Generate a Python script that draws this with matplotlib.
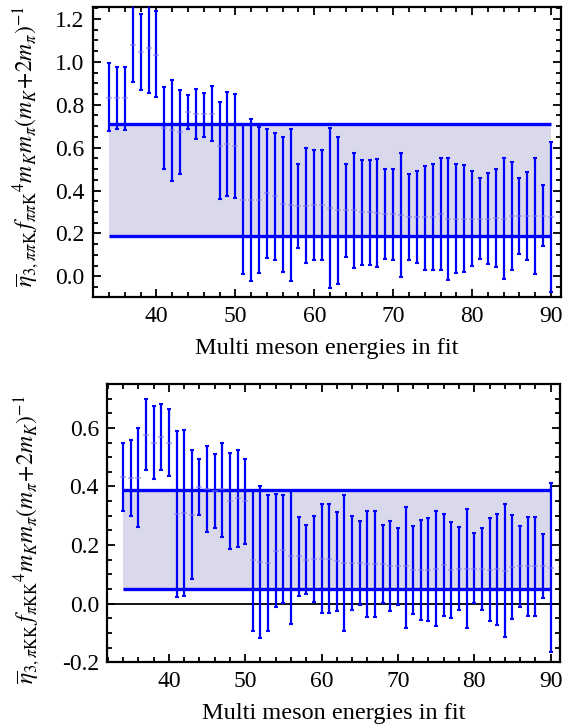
import matplotlib
matplotlib.use("Agg")
import matplotlib.pyplot as plt
from matplotlib.ticker import MultipleLocator, FormatStrFormatter

plt.rcParams['font.family'] = ['Liberation Serif', 'DejaVu Serif']
plt.rcParams['mathtext.fontset'] = 'stix'
plt.rcParams['axes.unicode_minus'] = True

# ---------------- data ----------------
n_energies = list(range(34, 91))

top_center = [0.833, 0.830, 0.830, 1.079, 1.045, 1.067, 1.034, 0.693, 0.682, 0.671,
              0.768, 0.758, 0.756, 0.758, 0.609, 0.617, 0.609, 0.357, 0.357, 0.357,
              0.389, 0.375, 0.335, 0.333, 0.329, 0.329, 0.333, 0.333, 0.319, 0.308,
              0.308, 0.308, 0.299, 0.299, 0.296, 0.291, 0.291, 0.287, 0.276, 0.276,
              0.276, 0.276, 0.291, 0.268, 0.268, 0.268, 0.268, 0.268, 0.268, 0.273,
              0.268, 0.282, 0.282, 0.282, 0.282, 0.282, 0.276]
top_low = [0.679, 0.687, 0.684, 0.908, 0.871, 0.857, 0.838, 0.500, 0.445, 0.478,
           0.688, 0.642, 0.651, 0.632, 0.361, 0.375, 0.366, 0.011, -0.022, 0.016,
           0.086, 0.076, 0.020, -0.022, 0.132, 0.062, 0.076, 0.076, -0.055, -0.036,
           0.090, 0.039, 0.053, 0.053, 0.044, 0.081, 0.076, -0.003, 0.076, 0.062,
           0.030, 0.030, 0.030, -0.017, 0.016, 0.020, 0.048, 0.081, 0.058, 0.044,
           -0.012, 0.030, 0.104, 0.076, 0.011, 0.142, -0.073]
top_high = [0.994, 0.978, 0.978, 1.300, 1.221, 1.290, 1.235, 0.885, 0.917, 0.868,
            0.847, 0.875, 0.857, 0.889, 0.815, 0.861, 0.852, 0.707, 0.735, 0.698,
            0.688, 0.670, 0.651, 0.688, 0.525, 0.600, 0.590, 0.590, 0.693, 0.651,
            0.525, 0.576, 0.544, 0.544, 0.548, 0.502, 0.502, 0.576, 0.478, 0.492,
            0.516, 0.525, 0.553, 0.553, 0.525, 0.520, 0.492, 0.459, 0.483, 0.502,
            0.553, 0.534, 0.459, 0.487, 0.553, 0.427, 0.628]
top_band = [0.190, 0.712]

bot_center = [0.433, 0.430, 0.430, 0.577, 0.550, 0.569, 0.548, 0.305, 0.308, 0.302,
              0.397, 0.390, 0.384, 0.390, 0.351, 0.360, 0.350, 0.149, 0.143, 0.139,
              0.180, 0.183, 0.162, 0.162, 0.150, 0.152, 0.153, 0.153, 0.146, 0.139,
              0.139, 0.139, 0.134, 0.134, 0.134, 0.129, 0.127, 0.127, 0.115, 0.115,
              0.115, 0.118, 0.131, 0.115, 0.118, 0.118, 0.118, 0.118, 0.115, 0.118,
              0.113, 0.125, 0.127, 0.127, 0.127, 0.129, 0.122]
bot_low = [0.316, 0.299, 0.261, 0.455, 0.425, 0.455, 0.435, 0.023, 0.026, 0.084,
           0.302, 0.244, 0.257, 0.227, 0.186, 0.193, 0.205, -0.092, -0.116, -0.092,
           -0.011, 0.003, -0.069, 0.027, 0.033, 0.006, -0.031, -0.031, -0.024, -0.092,
           -0.021, -0.005, -0.045, -0.045, 0.003, -0.024, -0.004, -0.082, -0.035, -0.055,
           -0.058, -0.076, -0.041, -0.048, -0.021, -0.082, 0.003, -0.021, -0.058, -0.072,
           -0.113, -0.051, -0.011, -0.041, -0.041, 0.020, -0.164]
bot_high = [0.549, 0.559, 0.600, 0.699, 0.676, 0.683, 0.663, 0.588, 0.594, 0.523,
            0.493, 0.539, 0.512, 0.550, 0.516, 0.526, 0.493, 0.385, 0.401, 0.370,
            0.373, 0.370, 0.384, 0.295, 0.268, 0.299, 0.339, 0.339, 0.312, 0.370,
            0.299, 0.282, 0.316, 0.316, 0.268, 0.282, 0.258, 0.329, 0.265, 0.285,
            0.292, 0.316, 0.305, 0.278, 0.261, 0.322, 0.241, 0.258, 0.292, 0.305,
            0.339, 0.302, 0.265, 0.295, 0.295, 0.237, 0.411]
bot_band = [0.049, 0.389]

xlabel_text = "Multi meson energies in fit"
top_ylabel = r"$\overline{\eta}_{3,\pi\pi\mathrm{K}}\,f_{\pi\pi\mathrm{K}}{}^{4}m_K m_\pi(m_K\!+\!2m_\pi)^{-1}$"
bot_ylabel = r"$\overline{\eta}_{3,\pi\mathrm{KK}}\,f_{\pi\mathrm{KK}}{}^{4}m_K m_\pi(m_\pi\!+\!2m_K)^{-1}$"

BLUE = "#0000ff"
BAND = "#d9d9eb"


def draw(ax, center, low, high, band, ylim, ylabel, zero_line):
    x = n_energies
    ax.fill_between([x[0], x[-1]], band[0], band[1], color=BAND, lw=0, zorder=1)
    ax.plot([x[0], x[-1]], [band[1], band[1]], color=BLUE, lw=2.4, zorder=3,
            solid_capstyle='butt')
    ax.plot([x[0], x[-1]], [band[0], band[0]], color=BLUE, lw=2.4, zorder=3,
            solid_capstyle='butt')
    if zero_line:
        ax.axhline(0.0, color='black', lw=1.3, zorder=2)
    yerr = [[c - l for c, l in zip(center, low)], [h - c for c, h in zip(center, high)]]
    ax.errorbar(x, center, yerr=yerr, fmt='none', ecolor=BLUE, elinewidth=1.6,
                capsize=1.6, capthick=1.5, zorder=4)
    ax.plot(x, center, ls='none', marker='_', ms=4, mew=1.4, color='#8080ff',
            alpha=0.55, zorder=5)
    ax.set_xlim(31.93, 91.23)
    ax.set_ylim(*ylim)
    ax.xaxis.set_major_locator(MultipleLocator(10))
    ax.xaxis.set_minor_locator(MultipleLocator(2))
    ax.yaxis.set_major_locator(MultipleLocator(0.2))
    ax.yaxis.set_minor_locator(MultipleLocator(0.05))
    ax.yaxis.set_major_formatter(FormatStrFormatter('%.1f'))
    ax.tick_params(which='both', direction='in', top=True, right=True,
                   labelsize=17, width=1.3, pad=6)
    ax.tick_params(which='major', length=6)
    ax.tick_params(which='minor', length=3.5)
    for s in ax.spines.values():
        s.set_linewidth(1.6)
    ax.set_xlabel(xlabel_text, fontsize=17.5, labelpad=8)
    ax.set_ylabel(ylabel, fontsize=17)


fig = plt.figure(figsize=(5.64, 7.28), dpi=100)
ax1 = fig.add_axes([0.1644, 0.5916, 0.8298, 0.3988])
ax2 = fig.add_axes([0.1902, 0.0903, 0.8027, 0.3823])

draw(ax1, top_center, top_low, top_high, top_band, (-0.098, 1.256), top_ylabel, False)
draw(ax2, bot_center, bot_low, bot_high, bot_band, (-0.2, 0.75), bot_ylabel, True)

ax1.yaxis.set_label_coords(-0.110, 0.52)
ax2.yaxis.set_label_coords(-0.145, 0.44)

fig.savefig("out.png", dpi=100)
